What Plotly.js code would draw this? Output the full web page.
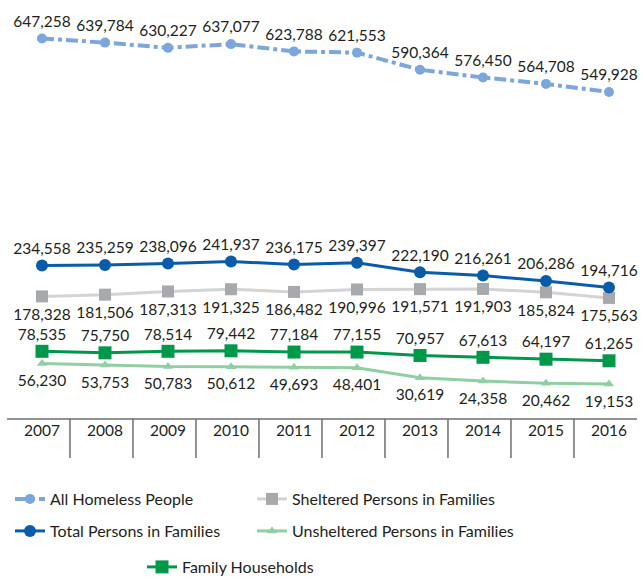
<!DOCTYPE html>
<html>
<head>
<meta charset="utf-8">
<script src="https://cdn.plot.ly/plotly-3.0.1.min.js"></script>
<style>html,body{margin:0;padding:0;background:#fff;}</style>
</head>
<body>
<div id="chart" style="width:642px;height:578px;"></div>
<script>
const years = [2007, 2008, 2009, 2010, 2011, 2012, 2013, 2014, 2015, 2016];
const allHomeless = [647258, 639784, 630227, 637077, 623788, 621553, 590364, 576450, 564708, 549928];
const totalFamilies = [234558, 235259, 238096, 241937, 236175, 239397, 222190, 216261, 206286, 194716];
const sheltered = [178328, 181506, 187313, 191325, 186482, 190996, 191571, 191903, 185824, 175563];
const familyHouseholds = [78535, 75750, 78514, 79442, 77184, 77155, 70957, 67613, 64197, 61265];
const unsheltered = [56230, 53753, 50783, 50612, 49693, 48401, 30619, 24358, 20462, 19153];
const seriesNames = ["All Homeless People", "Sheltered Persons in Families", "Total Persons in Families", "Unsheltered Persons in Families", "Family Households"];

const FONT = "Lato, 'Open Sans', sans-serif";
const TXT = "#231f20";

function lineTrace(y, name, color, lineColor, width, dash, symbol, size, legendId) {
  return {
    x: years, y: y, name: name, type: "scatter", mode: "lines+markers",
    line: {color: lineColor, width: width, dash: dash},
    marker: {color: color, size: size, symbol: symbol, line: {width: 0}},
    legend: legendId, hoverinfo: "skip"
  };
}
function labelTrace(y, pos, offSize) {
  return {
    x: years, y: y, type: "scatter", mode: "markers+text", showlegend: false,
    marker: {color: "rgba(0,0,0,0)", size: offSize},
    texttemplate: "%{y:,}", textposition: pos,
    textfont: {family: FONT, size: 15.5, color: TXT}, hoverinfo: "skip"
  };
}

const traces = [
  lineTrace(sheltered, seriesNames[1], "#a7a9ac", "#d4d4d4", 3, "solid", "square", 12, "legend2"),
  lineTrace(unsheltered, seriesNames[3], "#8fd0a3", "#8fd0a3", 3, "solid", "triangle-up", 9, "legend4"),
  lineTrace(familyHouseholds, seriesNames[4], "#00994a", "#00994a", 3, "solid", "square", 13, "legend5"),
  lineTrace(totalFamilies, seriesNames[2], "#0a5ca8", "#0a5ca8", 3, "solid", "circle", 12, "legend3"),
  lineTrace(allHomeless, seriesNames[0], "#7ba7dc", "#7ba7dc", 4, "dashdot", "circle", 10, "legend"),
  labelTrace(allHomeless, "top center", 11),
  labelTrace(totalFamilies, "top center", 11),
  labelTrace(sheltered, "bottom center", 17),
  labelTrace(familyHouseholds, "top center", 11),
  labelTrace(unsheltered, "bottom center", 16)
];

const sepOffset = 0.444;
const shapes = [{
  type: "line", xref: "x", yref: "paper",
  x0: years[0] - 1 + sepOffset, x1: years[years.length - 1] + sepOffset, y0: 0, y1: 0,
  line: {color: "#6d6e71", width: 1.5}
}];
for (let i = 0; i < years.length - 1; i++) {
  shapes.push({
    type: "line", xref: "x", yref: "paper",
    x0: years[i] + sepOffset, x1: years[i] + sepOffset, y0: 0, y1: -0.093,
    line: {color: "#6d6e71", width: 1.5}
  });
}

function leg(xpx, ypx) {
  return {
    x: xpx / 642, y: (419 - ypx) / 419, xanchor: "left", yanchor: "middle",
    orientation: "v", bgcolor: "rgba(0,0,0,0)", borderwidth: 0,
    font: {family: FONT, size: 16, color: TXT}, itemclick: false, itemdoubleclick: false
  };
}

const layout = {
  width: 642, height: 578,
  margin: {l: 0, r: 0, t: 0, b: 159, pad: 0, autoexpand: false},
  paper_bgcolor: "#ffffff", plot_bgcolor: "#ffffff",
  showlegend: true,
  xaxis: {
    range: [years[0] - 42 / 63, years[years.length - 1] + 33 / 63],
    tickmode: "array", tickvals: years, ticktext: years.map(String),
    ticks: "", showgrid: false, zeroline: false, showline: false, automargin: false,
    tickfont: {family: FONT, size: 15.5, color: TXT}, fixedrange: true
  },
  yaxis: {
    range: [-44560, 717258], visible: false, showgrid: false, zeroline: false, fixedrange: true, automargin: false
  },
  shapes: shapes,
  legend: leg(10, 499),
  legend2: leg(252, 499),
  legend3: leg(10, 531),
  legend4: leg(252, 531),
  legend5: leg(142, 567),
  hovermode: false
};

Plotly.newPlot("chart", traces, layout, {displayModeBar: false, staticPlot: true});
</script>
</body>
</html>
